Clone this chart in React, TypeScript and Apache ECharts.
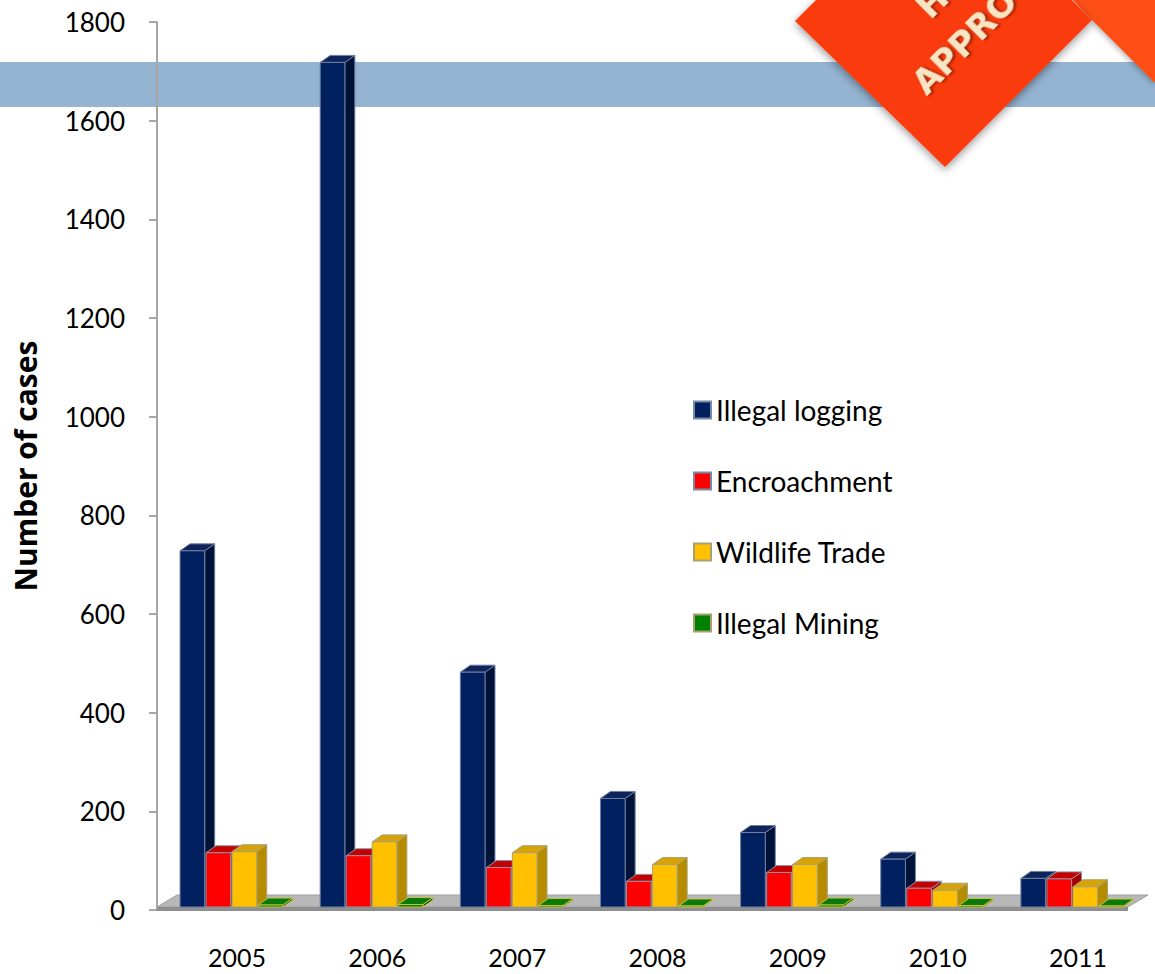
import React, { useEffect, useRef } from "react";
import * as echarts from "echarts";

const CATEGORIES = ["2005", "2006", "2007", "2008", "2009", "2010", "2011"];
const ILLEGAL_LOGGING = [722, 1712, 476, 220, 151, 97, 58];
const ENCROACHMENT = [110, 104, 80, 52, 70, 38, 57];
const WILDLIFE_TRADE = [112, 132, 110, 86, 86, 34, 41];
const ILLEGAL_MINING = [4, 5, 3, 2, 4, 3, 2];
const SERIES_NAMES = ["Illegal logging", "Encroachment", "Wildlife Trade", "Illegal Mining"];
const Y_MIN = 0;
const Y_MAX = 1800;
const Y_INTERVAL = 200;

const PALETTE = [
  { front: "#002060", side: "#001238", top: "#0d235a", stroke: "#6f7f9f" },
  { front: "#ff0000", side: "#a80000", top: "#c40000", stroke: "#8a94a8" },
  { front: "#ffc000", side: "#b58c00", top: "#d6a30a", stroke: "#a8a070" },
  { front: "#008000", side: "#004d00", top: "#0a7a0a", stroke: "#c8c040" },
];

function makeRender(idx: number) {
  const c = PALETTE[idx];
  return (params: any, api: any) => {
    const cat = api.value(0);
    const val = api.value(1);
    const base = api.coord([cat, 0]);
    const top = api.coord([cat, val]);
    const band = api.size([1, 0])[0];
    const w = band * 0.176;
    const x0 = base[0] - band * 0.407 + idx * band * 0.1856;
    const yB = base[1] - 3;
    const yT = top[1] - 3;
    const dx = 10;
    const dy = -7;
    const stroke = { stroke: c.stroke, lineWidth: 1 };
    return {
      type: "group",
      children: [
        {
          type: "polygon",
          shape: { points: [[x0 + w, yT], [x0 + w + dx, yT + dy], [x0 + w + dx, yB + dy], [x0 + w, yB]] },
          style: { fill: c.side, ...stroke },
        },
        {
          type: "polygon",
          shape: { points: [[x0, yT], [x0 + dx, yT + dy], [x0 + w + dx, yT + dy], [x0 + w, yT]] },
          style: { fill: c.top, ...stroke },
        },
        {
          type: "rect",
          shape: { x: x0, y: yT, width: w, height: yB - yT },
          style: { fill: c.front, ...stroke },
        },
      ],
    };
  };
}

export default function App() {
  const ref = useRef<HTMLDivElement>(null);
  useEffect(() => {
    if (!ref.current) return;
    const chart = echarts.init(ref.current, null, { renderer: "svg" });
    const datasets = [ILLEGAL_LOGGING, ENCROACHMENT, WILDLIFE_TRADE, ILLEGAL_MINING];
    const font = "Lato, 'Open Sans', sans-serif";
    const bannerText = {
      fontSize: 34,
      fontWeight: 900,
      fontFamily: "'DejaVu Sans', sans-serif",
      fill: "#f7e5c4",
      textAlign: "left",
      textVerticalAlign: "bottom",
      textShadowColor: "rgba(90,20,0,0.6)",
      textShadowOffsetX: 2,
      textShadowOffsetY: 2,
      textShadowBlur: 2,
    };
    chart.setOption({
      animation: false,
      backgroundColor: "#ffffff",
      grid: { left: 167, right: 7, top: 22, bottom: 64 },
      xAxis: {
        type: "category",
        data: CATEGORIES,
        axisLine: { show: false },
        axisTick: { show: false },
        axisLabel: { margin: 34, fontSize: 25, color: "#000", fontFamily: font },
        splitLine: { show: false },
      },
      yAxis: {
        type: "value",
        min: Y_MIN,
        max: Y_MAX,
        interval: Y_INTERVAL,
        offset: 10,
        name: "Number of cases",
        nameLocation: "middle",
        nameGap: 117,
        nameTextStyle: { fontSize: 30, fontWeight: "bold", color: "#000", fontFamily: "'Open Sans', sans-serif" },
        axisLine: { show: true, lineStyle: { color: "#a6a6a6", width: 2 } },
        axisTick: { show: true, length: 8, lineStyle: { color: "#a6a6a6", width: 2 } },
        axisLabel: { margin: 32, fontSize: 26, color: "#000", fontFamily: font, formatter: (v: number) => String(v) },
        splitLine: { show: false },
      },
      legend: {
        orient: "vertical",
        left: 693,
        top: 396,
        padding: 0,
        itemGap: 43,
        itemWidth: 17,
        itemHeight: 17,
        icon: "rect",
        textStyle: { fontSize: 28, color: "#000", fontFamily: font },
        data: SERIES_NAMES.map((n, i) => ({
          name: n,
          itemStyle: { color: PALETTE[i].front, borderColor: i < 2 ? "#7b8aa3" : "#a8a070", borderWidth: 2 },
        })),
      },
      series: datasets.map((d, i) => ({
        type: "custom",
        name: SERIES_NAMES[i],
        renderItem: makeRender(i),
        itemStyle: { color: PALETTE[i].front },
        encode: { x: 0, y: 1 },
        data: d.map((v, j) => [j, v]),
        clip: false,
        z: 3,
      })),
      graphic: [
        { type: "rect", z: -1, shape: { x: 0, y: 62, width: 1155, height: 45 }, style: { fill: "#94b4d2" } },
        {
          type: "polygon",
          z: 1,
          shape: { points: [[157, 907], [1128, 907], [1148, 895], [177, 895]] },
          style: { fill: "#b8b8b8", stroke: "#a0a0a0", lineWidth: 1 },
        },
        { type: "polygon", z: 1, shape: { points: [[157, 907], [1128, 907], [1128, 911], [157, 911]] }, style: { fill: "#8f8f8f" } },
        {
          type: "polygon",
          z: 20,
          shape: { points: [[1073, 0], [1092, 20], [1155, 83], [1155, 0]] },
          style: { fill: "#ff5018", shadowBlur: 6, shadowColor: "rgba(0,0,0,0.35)", shadowOffsetY: 2 },
        },
        {
          type: "polygon",
          z: 21,
          shape: { points: [[816, 0], [795, 21], [945, 167], [1092, 20], [1072, 0]] },
          style: { fill: "#f93a08", shadowBlur: 8, shadowColor: "rgba(0,0,0,0.4)", shadowOffsetY: 3 },
        },
        { type: "text", z: 22, x: 930, y: 100, rotation: Math.PI / 4, style: { text: "APPROVED", ...bannerText } },
        { type: "text", z: 22, x: 934, y: 24, rotation: Math.PI / 4, style: { text: "H", ...bannerText } },
      ],
    });
    return () => chart.dispose();
  }, []);
  return <div ref={ref} style={{ position: "fixed", left: 0, top: 0, width: 1155, height: 974 }} />;
}
